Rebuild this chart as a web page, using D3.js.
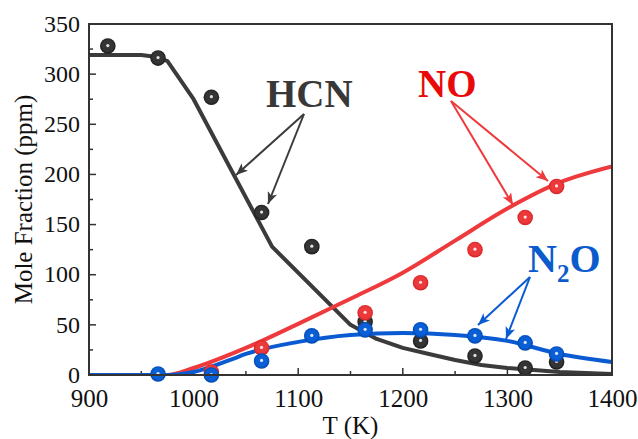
<!DOCTYPE html>
<html>
<head>
<meta charset="utf-8">
<script src="https://cdn.jsdelivr.net/npm/d3@7"></script>
<style>
  html, body { margin: 0; padding: 0; background: #fff; }
  svg { display: block; }
  text { font-family: "Liberation Serif", "Times New Roman", serif; }
</style>
</head>
<body>
<svg id="chart" width="638" height="439"></svg>
<script>
// ---- data ----
const xTicks = [900, 1000, 1100, 1200, 1300, 1400];
const yTicks = [0, 50, 100, 150, 200, 250, 300, 350];

// simulated curves
const hcnLineT   = [900, 950, 965, 975, 1000, 1075, 1150, 1175, 1200, 1225, 1250, 1275, 1300, 1350, 1400];
const hcnLineV   = [319, 319, 317, 313, 275, 128, 50, 36, 27, 21, 15, 10, 7, 3, 1];
const noLineT    = [900, 975, 1000, 1050, 1100, 1150, 1200, 1250, 1300, 1350, 1400];
const noLineV    = [0, 0, 7, 27, 51, 76, 102, 134, 166, 192, 208];
const n2oLineT   = [900, 975, 1000, 1035, 1050, 1100, 1150, 1200, 1250, 1300, 1350, 1400];
const n2oLineV   = [0, 0, 3, 15, 21, 33, 40, 42, 40, 34, 21, 13];

// experimental points
const hcnExpT = [918, 966, 1017, 1065, 1113, 1164, 1217, 1269, 1317, 1347];
const hcnExpV = [328, 316, 277, 162, 128, 53, 34, 19, 7, 13];
const noExpT  = [1017, 1065, 1164, 1217, 1269, 1317, 1347];
const noExpV  = [3, 27, 62, 92, 125, 157, 188];
const n2oExpT = [966, 1017, 1065, 1113, 1164, 1217, 1269, 1317, 1347];
const n2oExpV = [1, 0, 14, 39, 45, 45, 39, 32, 21];

// ---- layout ----
const svg = d3.select("#chart");
const L = 89, T = 24, R = 612, B = 375;
const x = d3.scaleLinear().domain([900, 1400]).range([L, R]);
const y = d3.scaleLinear().domain([0, 350]).range([B, T]);

const C = {
  hcn: "#3b3b3b", hcnText: "#383838",
  no: "#ee3a3c", noText: "#e80a0a",
  n2o: "#0a5bd2", n2oText: "#0a5ccc"
};

const defs = svg.append("defs");
function ballGrad(id, base, dark) {
  const g = defs.append("radialGradient").attr("id", id)
    .attr("cx", "50%").attr("cy", "48%").attr("r", "50%");
  g.append("stop").attr("offset", "0%").attr("stop-color", base);
  g.append("stop").attr("offset", "70%").attr("stop-color", base);
  g.append("stop").attr("offset", "100%").attr("stop-color", dark);
}
ballGrad("gHcn", "#353535", "#1c1c1c");
ballGrad("gNo", "#ec3a3c", "#d42426");
ballGrad("gN2o", "#0a5fd6", "#0047b0");

function arrowMarker(id, color) {
  defs.append("marker").attr("id", id)
    .attr("viewBox", "0 0 12 10").attr("refX", 12).attr("refY", 5)
    .attr("markerWidth", 13).attr("markerHeight", 10)
    .attr("markerUnits", "userSpaceOnUse").attr("orient", "auto")
    .append("path").attr("d", "M0,0 L12,5 L0,10 L3,5 Z").attr("fill", color);
}
arrowMarker("aHcn", C.hcn);
arrowMarker("aNo", C.no);
arrowMarker("aN2o", C.n2o);

// ---- axes ----
const xAxis = d3.axisBottom(x).tickValues(xTicks).tickSize(0).tickPadding(0).tickFormat(d3.format("d"));
const gx = svg.append("g").attr("transform", `translate(0,${B})`).call(xAxis);
gx.select(".domain").remove();
gx.selectAll("text").attr("font-size", 25).attr("fill", "#111")
  .attr("dy", null).attr("y", 32);

const yAxis = d3.axisLeft(y).tickValues(yTicks).tickSize(0).tickPadding(0);
const gy = svg.append("g").attr("transform", `translate(${L},0)`).call(yAxis);
gy.select(".domain").remove();
gy.selectAll("text").attr("font-size", 24).attr("fill", "#111")
  .attr("x", -9).attr("dy", "0.3em");

// inward ticks
const tickG = svg.append("g").attr("stroke", "#333").attr("stroke-width", 1.5);
d3.range(900, 1401, 50).forEach(v => {
  const len = v % 100 === 0 ? 7 : 4;
  tickG.append("line").attr("x1", x(v)).attr("x2", x(v)).attr("y1", B).attr("y2", B - len);
});
d3.range(0, 351, 25).forEach(v => {
  const len = v % 50 === 0 ? 7 : 4;
  tickG.append("line").attr("x1", L).attr("x2", L + len).attr("y1", y(v)).attr("y2", y(v));
});

// axis titles
svg.append("text").attr("x", (L + R) / 2).attr("y", 434).attr("text-anchor", "middle")
  .attr("font-size", 25).attr("fill", "#111").text("T (K)");
svg.append("text").attr("transform", `translate(32,${(T + B) / 2}) rotate(-90)`)
  .attr("text-anchor", "middle").attr("font-size", 25).attr("fill", "#111")
  .text("Mole Fraction (ppm)");

// ---- lines ----
const plot = svg.append("g");
plot.append("clipPath").attr("id", "clip").append("rect")
  .attr("x", L).attr("y", T - 10).attr("width", R - L).attr("height", B - T + 10);
const lines = plot.append("g").attr("clip-path", "url(#clip)");
function drawLine(ts, vs, color, curve) {
  const pts = ts.map((t, i) => [t, vs[i]]);
  lines.append("path").datum(pts)
    .attr("d", d3.line().x(d => x(d[0])).y(d => y(d[1])).curve(curve))
    .attr("fill", "none").attr("stroke", color).attr("stroke-width", 4)
    .attr("stroke-linejoin", "round");
}
drawLine(hcnLineT, hcnLineV, C.hcn, d3.curveLinear);
drawLine(noLineT, noLineV, C.no, d3.curveMonotoneX);
drawLine(n2oLineT, n2oLineV, C.n2o, d3.curveMonotoneX);

// ---- frame ----
svg.append("rect").attr("x", L).attr("y", T).attr("width", R - L).attr("height", B - T)
  .attr("fill", "none").attr("stroke", "#333").attr("stroke-width", 2);

// ---- points ----
function drawPts(ts, vs, grad) {
  const g = plot.append("g");
  const data = ts.map((t, i) => [t, vs[i]]);
  g.selectAll("circle.ball").data(data).join("circle").attr("class", "ball")
    .attr("cx", d => x(d[0])).attr("cy", d => y(d[1])).attr("r", 7.8)
    .attr("fill", `url(#${grad})`);
  g.selectAll("circle.hl").data(data).join("circle").attr("class", "hl")
    .attr("cx", d => x(d[0])).attr("cy", d => y(d[1]) - 0.5).attr("r", 1.6)
    .attr("fill", "#ffffff").attr("opacity", 0.85);
}
drawPts(hcnExpT, hcnExpV, "gHcn");
drawPts(noExpT, noExpV, "gNo");
drawPts(n2oExpT, n2oExpV, "gN2o");

// ---- annotations ----
function arrow(x1, y1, x2, y2, color, mk) {
  svg.append("line").attr("x1", x1).attr("y1", y1).attr("x2", x2).attr("y2", y2)
    .attr("stroke", color).attr("stroke-width", 2).attr("marker-end", `url(#${mk})`);
}
svg.append("text").attr("x", 266).attr("y", 107).attr("font-size", 39)
  .attr("font-weight", "bold").attr("fill", C.hcnText).text("HCN");
arrow(304, 114, 236, 175, C.hcn, "aHcn");
arrow(304, 114, 268, 204, C.hcn, "aHcn");

svg.append("text").attr("x", 418).attr("y", 97).attr("font-size", 39)
  .attr("font-weight", "bold").attr("fill", C.noText).text("NO");
arrow(451, 101, 513, 205, C.no, "aNo");
arrow(451, 101, 548, 181, C.no, "aNo");

const n2oT = svg.append("text").attr("x", 528).attr("y", 272).attr("font-size", 40)
  .attr("font-weight", "bold").attr("fill", C.n2oText);
n2oT.append("tspan").text("N");
n2oT.append("tspan").attr("font-size", 25).attr("dy", 10).text("2");
n2oT.append("tspan").attr("dy", -10).text("O");
arrow(530, 277, 478, 325, C.n2o, "aN2o");
arrow(530, 277, 506, 339, C.n2o, "aN2o");
</script>
</body>
</html>
